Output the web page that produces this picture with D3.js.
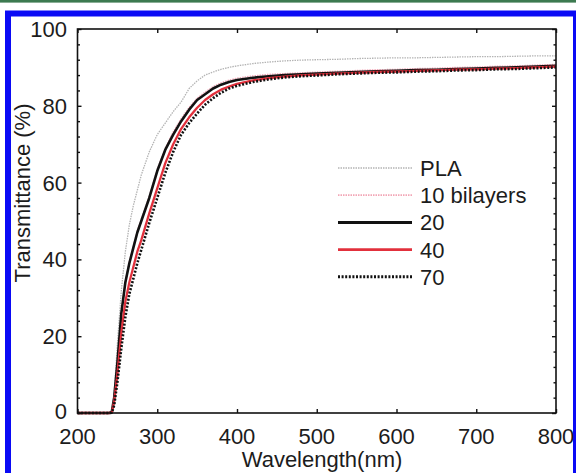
<!DOCTYPE html>
<html><head><meta charset="utf-8">
<script src="https://cdn.jsdelivr.net/npm/d3@7"></script>
<style>html,body{margin:0;padding:0;background:#fff;}svg{display:block;}</style>
</head><body>
<svg id="c" width="576" height="473"></svg>
<script>
const wavelengths = [200,210,220,230,240,243,246,250,255,260,265,270,275,280,290,300,310,320,330,340,350,360,370,380,390,400,420,440,460,480,500,525,550,575,600,625,650,675,700,725,750,775,800];
const pla       = [0,0,0,0,0,0.5,5,18,32,42,49,54,58,62,68,72.5,75.5,78.5,81,84.5,86.5,88,88.8,89.5,90,90.4,91,91.4,91.7,91.9,92,92.1,92.3,92.4,92.5,92.5,92.6,92.7,92.8,92.8,92.9,93,93];
const bil10     = [0,0,0,0,0,0.3,4,13,26,34.5,39.5,43.5,47.5,50.5,56.5,63.5,69,73.2,76.7,79.6,82,83.6,85,86,86.7,87.2,87.8,88.2,88.4,88.6,88.8,89,89.2,89.4,89.5,89.7,89.8,90,90.1,90.3,90.4,90.6,90.8];
const bil20     = [0,0,0,0,0,0.3,4,13,26,34,39,43,47,50,56,63,68.5,72.5,76,79,81.5,83,84.5,85.5,86.2,86.7,87.3,87.7,88,88.2,88.4,88.6,88.8,89,89.1,89.3,89.4,89.6,89.7,89.9,90,90.2,90.4];
const bil40     = [0,0,0,0,0,0.2,3,10,21,29,34,38,42,45,52,58.5,65,70,74,77,79.5,81.5,83,84.2,85,85.7,86.6,87.2,87.6,87.9,88.1,88.4,88.6,88.8,88.9,89.1,89.2,89.4,89.5,89.7,89.8,90,90.2];
const bil70     = [0,0,0,0,0,0.1,2,8,17,25,31,35,39,42.5,49.5,56,62.5,68,72.5,75.5,78,80.3,82,83.4,84.5,85.2,86.2,86.9,87.4,87.7,87.9,88.2,88.4,88.6,88.7,88.9,89,89.2,89.3,89.5,89.6,89.8,90];
const seriesNames = ["PLA","10 bilayers","20","40","70"];
const xTicks = [200,300,400,500,600,700,800];
const yTicks = [0,20,40,60,80,100];

const series = [
  {name: seriesNames[0], values: pla,   color: "#b4b4b4", width: 1.3, dash: "1.5,1"},
  {name: seriesNames[1], values: bil10, color: "#f2a6b6", width: 1.3, dash: "1.5,1"},
  {name: seriesNames[2], values: bil20, color: "#111111", width: 2.6, dash: null},
  {name: seriesNames[3], values: bil40, color: "#e2303c", width: 2.3, dash: null},
  {name: seriesNames[4], values: bil70, color: "#111111", width: 2.6, dash: "2,1.6"}
];

const svg = d3.select("#c");
const font = "'Liberation Sans', Arial, Helvetica, sans-serif";
const textColor = "#1c1c1c";
const fs = 22;

svg.append("rect").attr("x",0).attr("y",0).attr("width",576).attr("height",2.6).attr("fill","#3c7a50");
svg.append("rect").attr("x",8).attr("y",13.5).attr("width",568).attr("height",475)
  .attr("fill","none").attr("stroke","#0a0af5").attr("stroke-width",6);

const L = 77.5, R = 556, T = 29, B = 413;
const x = d3.scaleLinear().domain([200,800]).range([L,R]);
const y = d3.scaleLinear().domain([0,100]).range([B,T]);

const g = svg.append("g");
const line = d3.line().x((d,i)=>x(wavelengths[i])).y(d=>y(d)).curve(d3.curveLinear);
series.forEach(s=>{
  const p = g.append("path").datum(s.values).attr("d",line)
    .attr("fill","none").attr("stroke",s.color).attr("stroke-width",s.width)
    .attr("stroke-linejoin","round");
  if (s.dash) p.attr("stroke-dasharray",s.dash);
});

g.append("rect").attr("x",L).attr("y",T).attr("width",R-L).attr("height",B-T)
  .attr("fill","none").attr("stroke","#111").attr("stroke-width",1.6);

const axisStyle = sel => { sel.select(".domain").remove(); sel.selectAll("line").attr("stroke","#111").attr("stroke-width",1.4); sel.selectAll("text").remove(); };
svg.append("g").attr("transform",`translate(0,${B})`).call(d3.axisTop(x).tickValues(xTicks).tickSize(4)).call(axisStyle);
svg.append("g").attr("transform",`translate(0,${T})`).call(d3.axisBottom(x).tickValues(xTicks).tickSize(4)).call(axisStyle);
const yMinor = d3.range(0,101,4).filter(v=>v%20!==0);
svg.append("g").attr("transform",`translate(${L},0)`).call(d3.axisRight(y).tickValues(yTicks).tickSize(4)).call(axisStyle);
svg.append("g").attr("transform",`translate(${L},0)`).call(d3.axisRight(y).tickValues(yMinor).tickSize(2.5)).call(axisStyle);
svg.append("g").attr("transform",`translate(${R},0)`).call(d3.axisLeft(y).tickValues(yTicks).tickSize(4)).call(axisStyle);
svg.append("g").attr("transform",`translate(${R},0)`).call(d3.axisLeft(y).tickValues(yMinor).tickSize(2.5)).call(axisStyle);

svg.append("g").selectAll("text").data(xTicks).join("text")
  .attr("x",d=>x(d)).attr("y",443.5).attr("text-anchor","middle")
  .attr("font-family",font).attr("font-size",fs).attr("fill",textColor).text(d=>d);
svg.append("g").selectAll("text").data(yTicks).join("text")
  .attr("x",67).attr("y",d=>d===0 ? y(d)+5.5 : y(d)+8).attr("text-anchor","end")
  .attr("font-family",font).attr("font-size",fs).attr("fill",textColor).text(d=>d);

svg.append("text").attr("x",322).attr("y",467).attr("text-anchor","middle")
  .attr("font-family",font).attr("font-size",fs).attr("fill",textColor).text("Wavelength(nm)");
svg.append("text").attr("transform","translate(30,193) rotate(-90)").attr("text-anchor","middle")
  .attr("font-family",font).attr("font-size",fs).attr("fill",textColor).text("Transmittance (%)");

const lg = svg.append("g");
series.forEach((s,i)=>{
  const yy = 168 + i*27.2;
  const l = lg.append("line").attr("x1",338).attr("x2",412).attr("y1",yy).attr("y2",yy)
    .attr("stroke",s.color).attr("stroke-width",s.width+0.4);
  if (s.dash) l.attr("stroke-dasharray",s.dash);
  lg.append("text").attr("x",420).attr("y",yy+8).attr("font-family",font).attr("font-size",fs)
    .attr("fill",textColor).text(s.name);
});
</script>
</body></html>
